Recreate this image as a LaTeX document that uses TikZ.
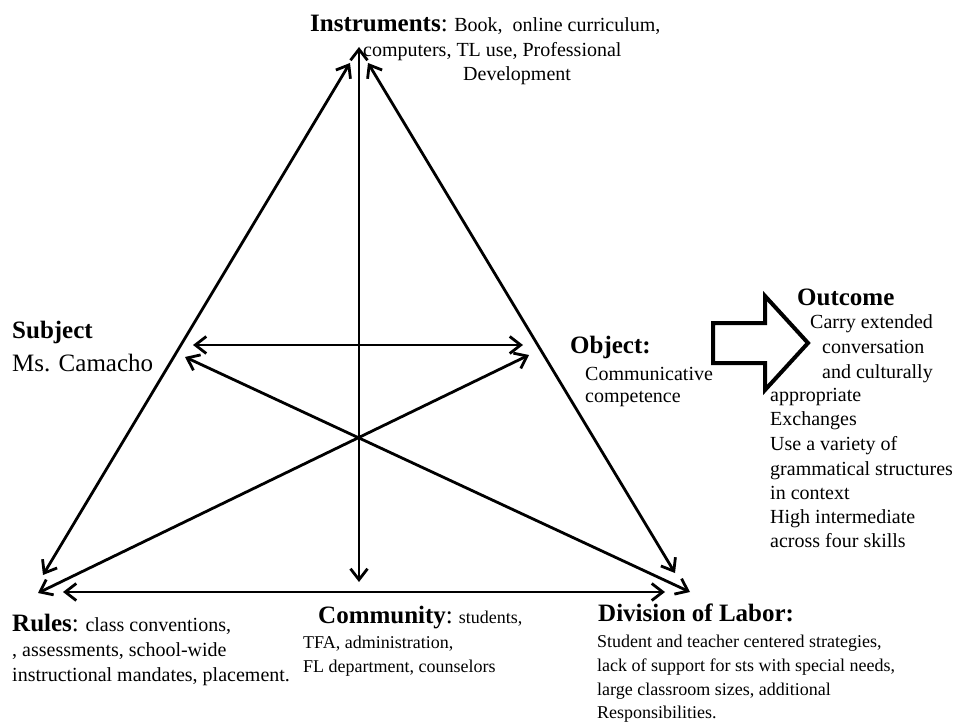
\documentclass[tikz,border=0pt]{standalone}
\usepackage{fontspec}
\setmainfont{Liberation Serif}
\usetikzlibrary{arrows.meta}
\newcommand{\hdfont}{\fontsize{25}{29}\selectfont\bfseries}
\newcommand{\bdfont}{\fontsize{20}{24}\selectfont}
\newcommand{\smfont}{\fontsize{18}{22}\selectfont}
\newcommand{\bigfont}{\fontsize{25}{29}\selectfont}
\begin{document}
\begin{tikzpicture}[x=1pt,y=-1pt,
  tip/.tip={Straight Barb[length=11pt,width=17pt,line width=2.8pt]},
  link/.style={line width=2.8pt,tip-tip},
  ln/.style={anchor=base west,inner sep=0pt,font=\bdfont},
  sm/.style={anchor=base west,inner sep=0pt,font=\smfont},
  blockarrow/.style={line width=4pt,line join=miter}]
\useasboundingbox (0,0) rectangle (958,722);
% endpoints
\coordinate (Ltop) at (350,63);  \coordinate (Lbot) at (43,575);
\coordinate (Rtop) at (368,63);  \coordinate (Rbot) at (675,573);
\coordinate (Vtop) at (359,47);  \coordinate (Vbot) at (359,582);
\coordinate (Hl) at (63,592);    \coordinate (Hr) at (665,592);
\coordinate (Ml) at (193,345);   \coordinate (Mr) at (523,345);
\coordinate (Da) at (185,357);   \coordinate (Db) at (690,592);
\coordinate (Ea) at (529,355);   \coordinate (Eb) at (38,593);
\draw[link] (Ltop) -- (Lbot);
\draw[link] (Rtop) -- (Rbot);
\draw[link] (Vtop) -- (Vbot);
\draw[link] (Hl) -- (Hr);
\draw[link] (Ml) -- (Mr);
\draw[link] (Da) -- (Db);
\draw[link] (Ea) -- (Eb);
% block arrow
\draw[blockarrow] (713,323) -- (765,323) -- (765,296) -- (808,343) -- (765,390) -- (765,363) -- (713,363) -- cycle;
% Instruments
\node[ln] (instrA) at (310,32) {{\hdfont Instruments}{\bigfont :} Book,\ \ online curriculum,};
\node[ln] (instrB) at (363,57) {computers, TL use, Professional};
\node[ln] (instrC) at (463,81) {Development};
% Subject
\node[ln,font=\hdfont] (subjA) at (12,338) {Subject};
\node[ln,font=\bigfont] (subjB) at (12,371) {Ms. Camacho};
% Object
\node[ln,font=\hdfont] (objA) at (570,353) {Object:};
\node[ln] (objB) at (585,380) {Communicative};
\node[ln] (objC) at (585,402) {competence};
% Outcome
\node[ln,font=\hdfont] (outA) at (797,305) {Outcome};
\node[ln] (outB) at (810,328) {Carry extended};
\node[ln] (outC) at (822,353) {conversation};
\node[ln] (outD) at (822,378) {and culturally};
\node[ln] (outE) at (770,401) {appropriate};
\node[ln] (outF) at (770,425) {Exchanges};
\node[ln] (outG) at (770,450) {Use a variety of};
\node[ln] (outH) at (770,475) {grammatical structures};
\node[ln] (outI) at (770,499) {in context};
\node[ln] (outJ) at (770,523) {High intermediate};
\node[ln] (outK) at (770,547) {across four skills};
% Rules
\node[ln] (rulA) at (12,631) {{\hdfont Rules}{\bigfont :} class conventions,};
\node[ln] (rulB) at (12,656) {, assessments, school-wide};
\node[ln] (rulC) at (12,681) {instructional mandates, placement.};
% Community
\node[sm] (comA) at (318,623) {{\hdfont Community}{\bigfont :} students,};
\node[sm] (comB) at (303,648) {TFA, administration,};
\node[sm] (comC) at (303,672) {FL department, counselors};
% Division of Labor
\node[sm,font=\hdfont] (divA) at (598,621) {Division of Labor:};
\node[sm] (divB) at (597,647) {Student and teacher centered strategies,};
\node[sm] (divC) at (597,671) {lack of support for sts with special needs,};
\node[sm] (divD) at (597,695) {large classroom sizes, additional};
\node[sm] (divE) at (597,718) {Responsibilities.};
\end{tikzpicture}
\end{document}
